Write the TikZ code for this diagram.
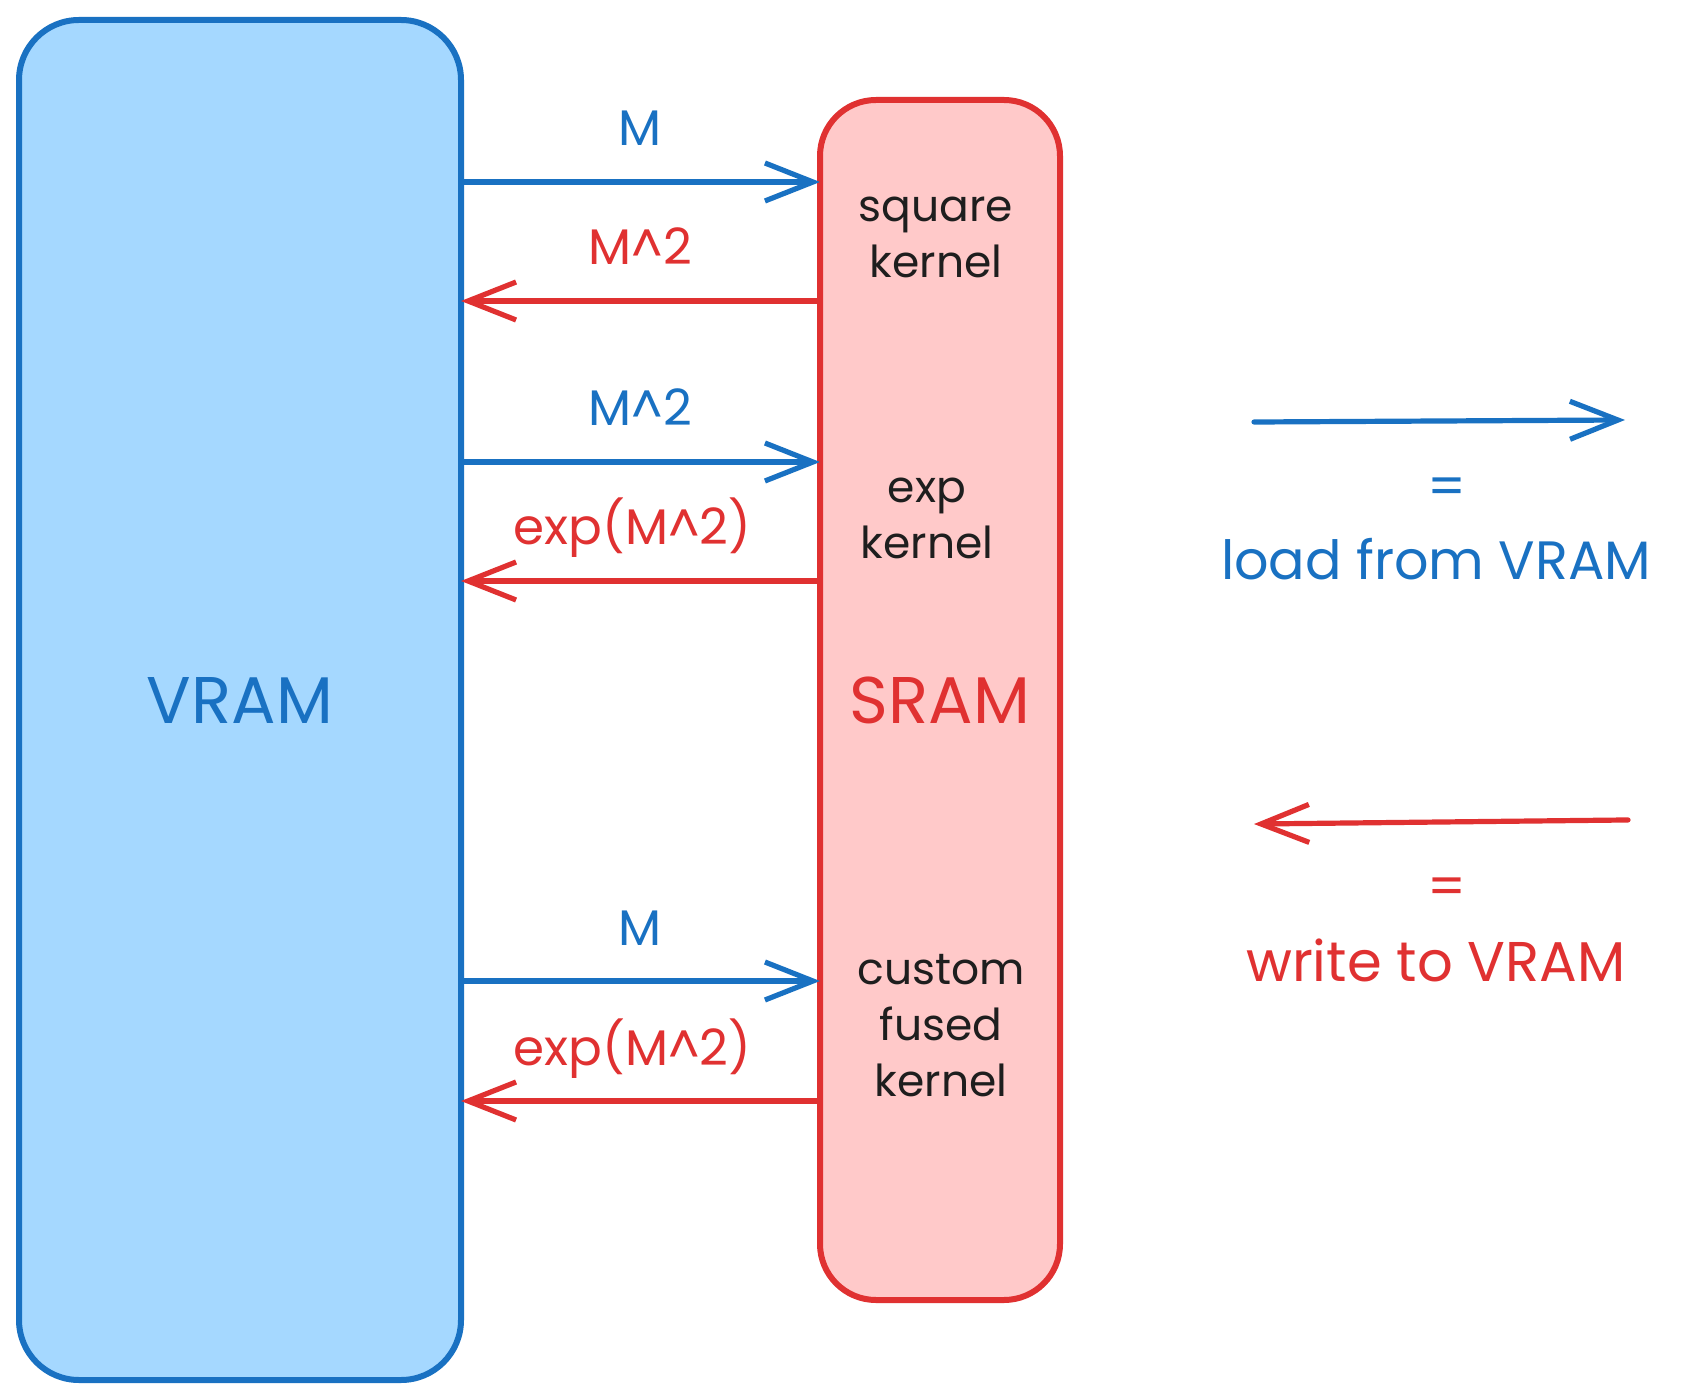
\documentclass[tikz,border=0pt]{standalone}
\usepackage{fontspec}
\setmainfont{Poppins}
\usetikzlibrary{arrows.meta,positioning}
\definecolor{vblue}{HTML}{1971C2}
\definecolor{vbluefill}{HTML}{A5D8FF}
\definecolor{sred}{HTML}{E03131}
\definecolor{sredfill}{HTML}{FFC9C9}
\definecolor{ink}{HTML}{1E1E1E}

\begin{document}
\begin{tikzpicture}[x=0.5pt, y=-0.5pt,
  >={Straight Barb[length=24pt,width=19pt]},
  vrambox/.style={draw=vblue, fill=vbluefill, line width=3pt, rounded corners=30pt,
    minimum width=221pt, minimum height=680pt, text=vblue, font=\fontsize{33}{40}\selectfont},
  srambox/.style={draw=sred, fill=sredfill, line width=3pt, rounded corners=28pt,
    minimum width=120pt, minimum height=600pt, text=sred, font=\fontsize{33}{40}\selectfont},
  kernel/.style={align=center, text=ink, font=\fontsize{22}{28}\selectfont},
  load/.style={->, draw=vblue, line width=2.6pt, line cap=round, shorten >=-1.5pt, shorten <=-1.5pt},
  write/.style={->, draw=sred, line width=2.6pt, line cap=round, shorten >=-1.5pt, shorten <=-1.5pt},
  lbl/.style={midway, anchor=base, yshift=18pt, font=\fontsize{25}{30}\selectfont},
  legend/.style={font=\fontsize{27}{32}\selectfont}
]
\useasboundingbox (0,0) rectangle (1696,1400);

\node[vrambox] (vram) at (240,700) {VRAM};
\node[srambox] (sram) at (940,700) {SRAM};

% kernels inside SRAM
\node[kernel] (sq)  at (936,237)  {square\\kernel};
\node[kernel] (ex)  at (927,518)  {exp\\kernel};
\node[kernel] (cus) at (941,1026) {custom\\fused\\kernel};

% transfer rows
\coordinate (r1) at (0,182);
\coordinate (r2) at (0,301);
\coordinate (r3) at (0,462);
\coordinate (r4) at (0,581);
\coordinate (r5) at (0,981);
\coordinate (r6) at (0,1101);

\draw[load]  (vram.east |- r1) -- (sram.west |- r1) node[lbl, text=vblue] (m1) {M};
\draw[write] (sram.west |- r2) -- (vram.east |- r2) node[lbl, text=sred] (sq1) {M\^{}2};
\draw[load]  (vram.east |- r3) -- (sram.west |- r3) node[lbl, text=vblue] (sq2) {M\^{}2};
\draw[write] (sram.west |- r4) -- (vram.east |- r4) node[lbl, text=sred, xshift=-4pt] (e1) {exp(M\^{}2)};
\draw[load]  (vram.east |- r5) -- (sram.west |- r5) node[lbl, text=vblue] (m2) {M};
\draw[write] (sram.west |- r6) -- (vram.east |- r6) node[lbl, text=sred, xshift=-4pt] (e2) {exp(M\^{}2)};

% legend
\coordinate (la) at (1257,422);
\coordinate (lb) at (1622,420);
\draw[load] (la) -- (lb);
\node[legend, text=vblue] (eq1) at (1447,492) {=};
\node[legend, text=vblue] (ltxt) at (1436,559) {load from VRAM};

\coordinate (wa) at (1625,820);
\coordinate (wb) at (1257,824);
\draw[write] (wa) -- (wb);
\node[legend, text=sred] (eq2) at (1447,892) {=};
\node[legend, text=sred, font=\fontsize{28}{32}\selectfont] (wtxt) at (1436,960) {write to VRAM};
\end{tikzpicture}
\end{document}
